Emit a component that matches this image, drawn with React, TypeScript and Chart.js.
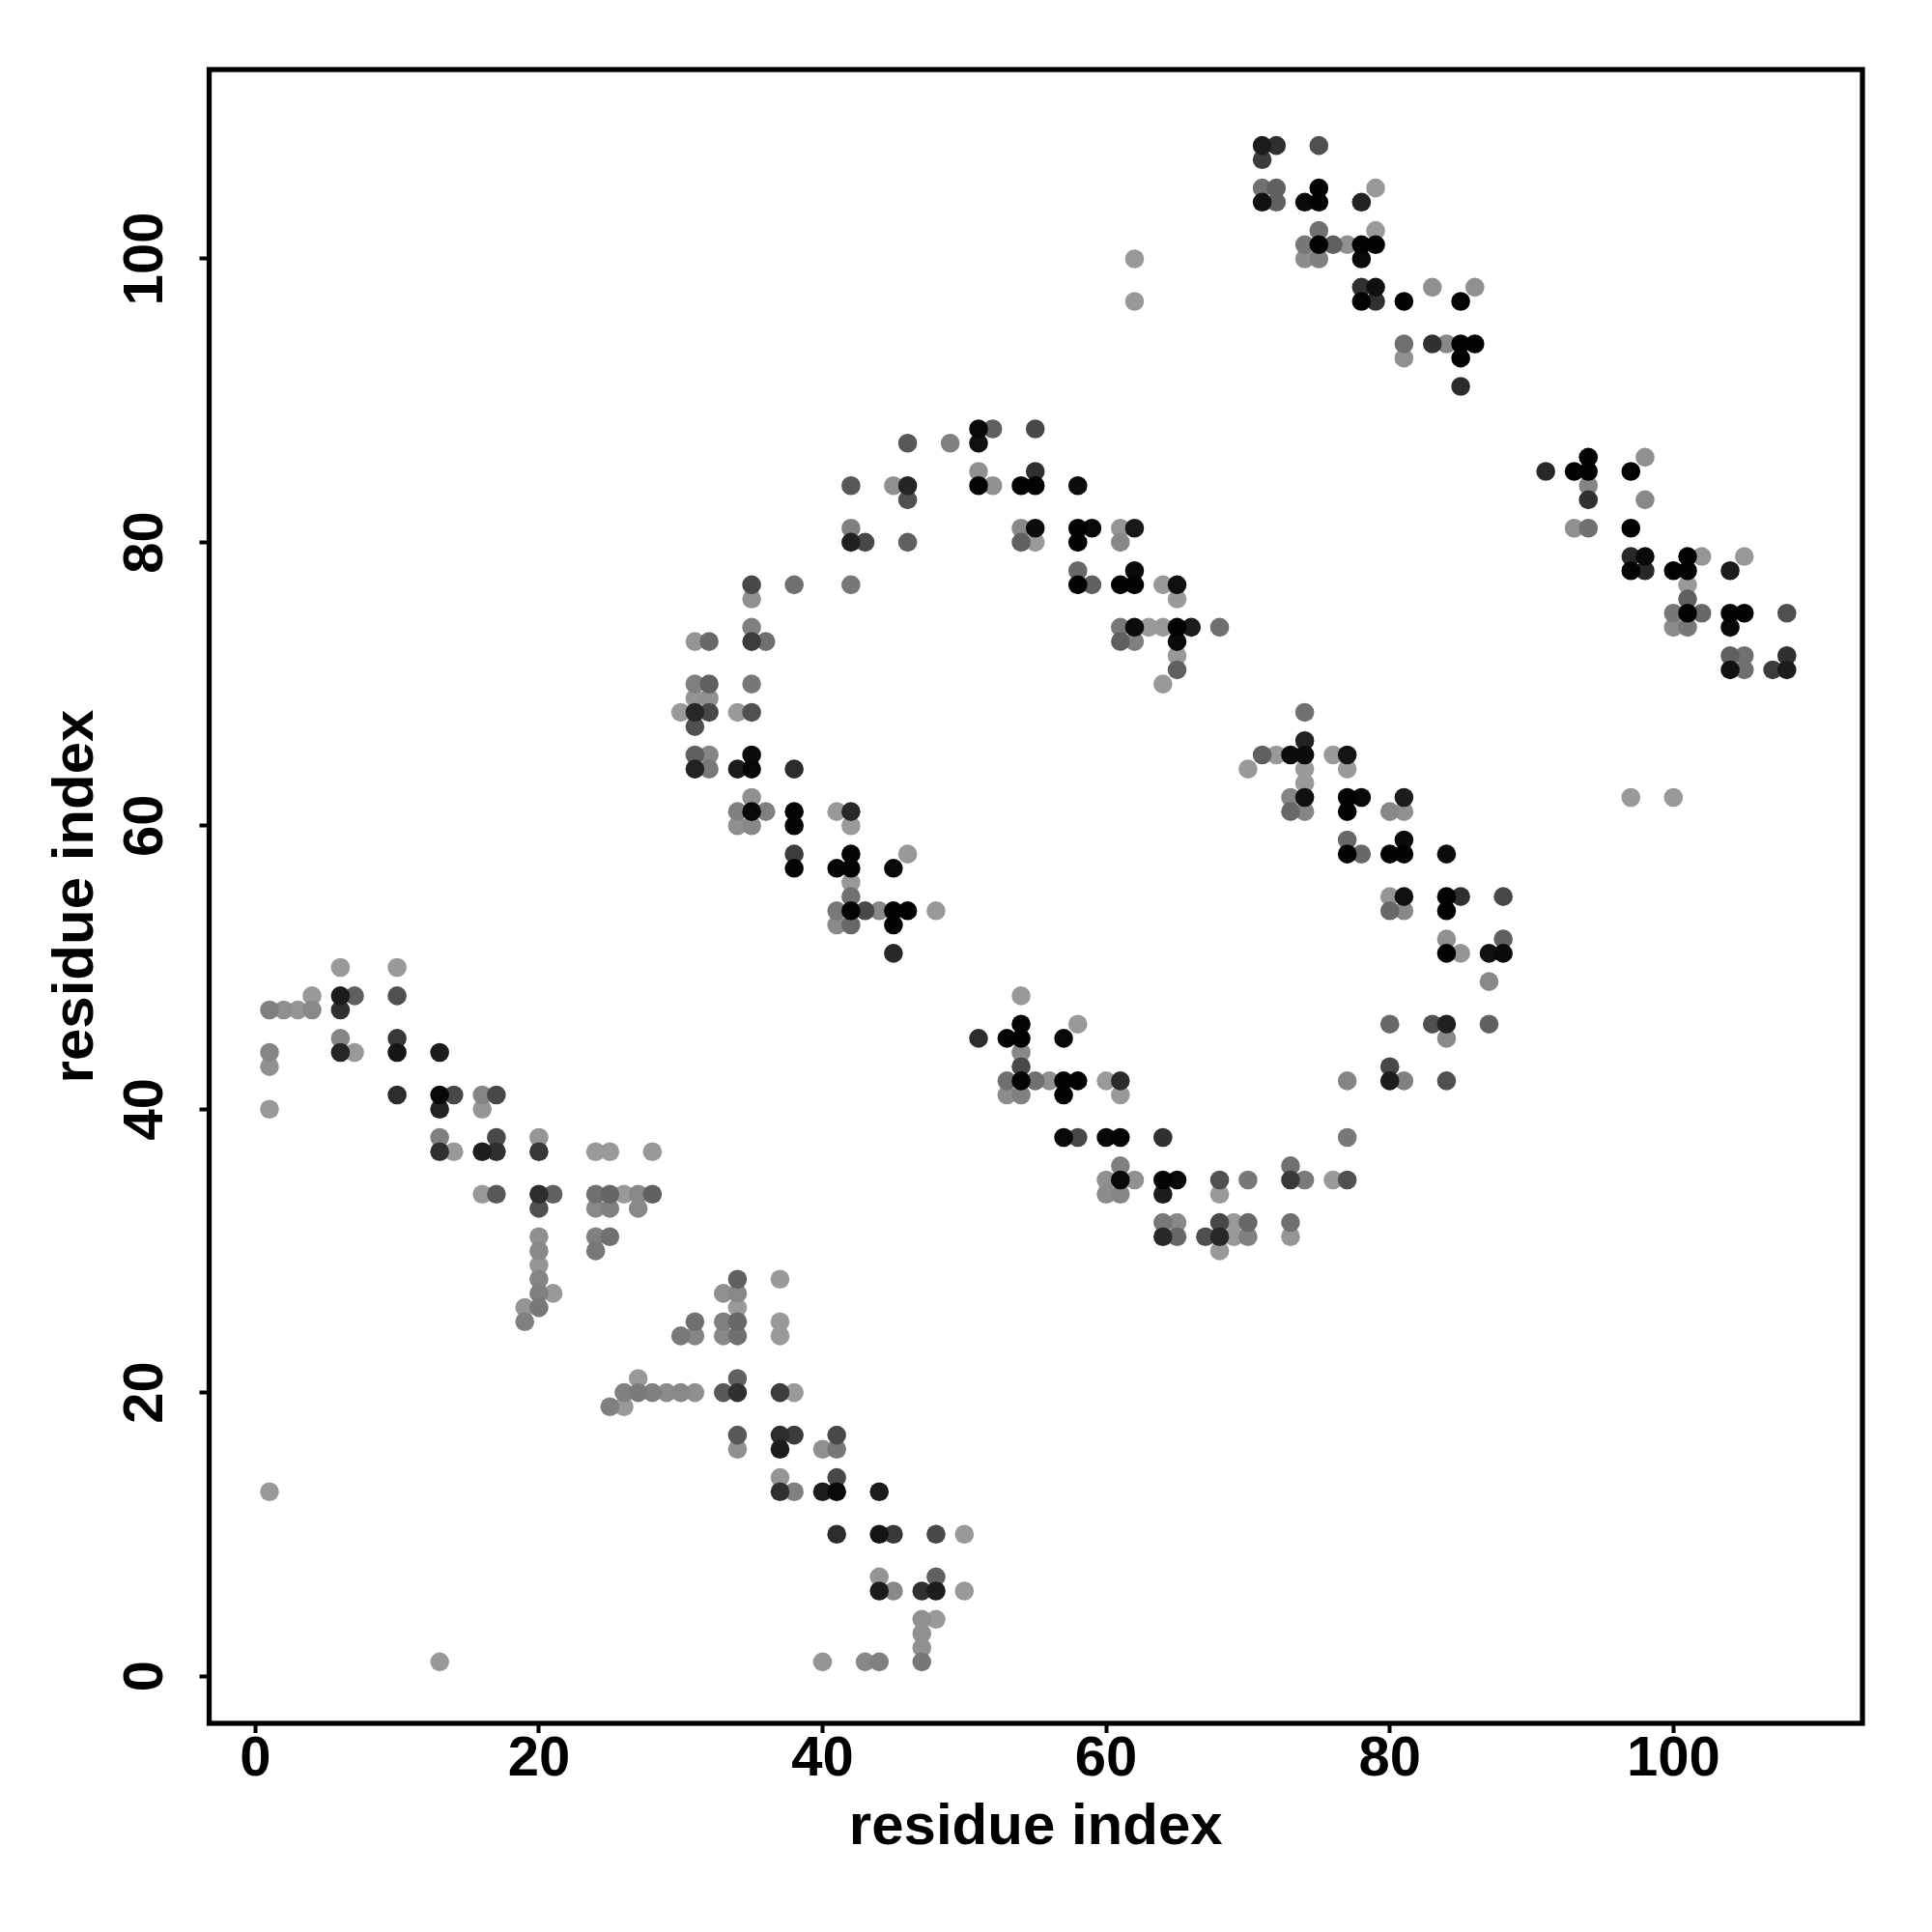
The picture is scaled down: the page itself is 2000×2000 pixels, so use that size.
import React, { useEffect, useRef } from "react";
import { Chart, registerables } from "chart.js";

Chart.register(...registerables);

const tickValues = [0, 20, 40, 60, 80, 100];
const axisLabel = "residue index";
const xRange = [-3.256, 113.33];
const yRange = [-3.34, 113.36];

// [x, y, grey level 0-255]
const lowerStrand: number[][] = [
  [6,50,0x99],[10,50,0x99],[4,48,0x99],[6,48,0x1c],[7,48,0x5f],[10,48,0x50],
  [1,47,0x7f],[2,47,0x90],[3,47,0x95],[4,47,0x88],[6,47,0x30],[6,45,0x85],[10,45,0x38],
  [1,44,0x85],[6,44,0x25],[7,44,0x99],[10,44,0x15],[13,44,0x1c],[1,43,0x90],
  [10,41,0x2c],[13,41,0x08],[14,41,0x48],[16,41,0x85],[17,41,0x48],
  [1,40,0x99],[13,40,0x22],[16,40,0x95],[13,38,0x80],[17,38,0x48],[20,38,0x95],
  [13,37,0x30],[14,37,0x99],[16,37,0x1e],[17,37,0x30],[20,37,0x38],[24,37,0x99],[25,37,0x99],[28,37,0x99],
  [16,34,0x99],[17,34,0x58],[20,34,0x2c],[21,34,0x60],[24,34,0x70],[25,34,0x66],[26,34,0x99],[27,34,0x88],[28,34,0x60],
  [20,33,0x50],[24,33,0x88],[25,33,0x80],[27,33,0x88],[20,31,0x90],[24,31,0x80],[25,31,0x70],
  [20,30,0x88],[24,30,0x78],[20,29,0x95],[20,28,0x85],[20,27,0x80],[21,27,0x99],
  [19,26,0x95],[20,26,0x78],[19,25,0x80],
  [34,28,0x60],[37,28,0x99],[33,27,0x90],[34,27,0x88],[34,26,0x99],
  [31,25,0x70],[33,25,0x80],[34,25,0x68],[37,25,0x99],[30,24,0x78],[31,24,0x85],[33,24,0x88],[34,24,0x70],[37,24,0x99],
  [27,21,0x99],[34,21,0x60],[26,20,0x80],[27,20,0x7a],[28,20,0x80],[29,20,0x8c],[30,20,0x88],[31,20,0x90],[33,20,0x58],[34,20,0x30],[37,20,0x3c],[38,20,0x99],
  [25,19,0x80],[26,19,0x99],[34,17,0x58],[37,17,0x2c],[38,17,0x3c],[41,17,0x48],
  [34,16,0x90],[37,16,0x1c],[40,16,0x90],[41,16,0x78],[37,14,0x95],[41,14,0x48],
  [37,13,0x30],[38,13,0x80],[40,13,0x1c],[41,13,0x08],[44,13,0x1c],
  [41,10,0x2c],[44,10,0x14],[45,10,0x38],[48,10,0x48],[50,10,0x99],[44,7,0x95],[48,7,0x60],
  [44,6,0x1c],[45,6,0x88],[47,6,0x30],[48,6,0x1c],[50,6,0x99],[47,4,0x90],[48,4,0x99],[47,3,0x90],[47,2,0x90],
  [40,1,0x95],[43,1,0x88],[44,1,0x80],[47,1,0x78],[13,1,0x99],[1,13,0x99],
];

const middleStrand: number[][] = [
  [35,77,0x48],[38,77,0x70],[35,76,0x90],[35,74,0x80],[31,73,0x95],[32,73,0x68],[35,73,0x3c],[36,73,0x70],
  [31,70,0x80],[32,70,0x60],[35,70,0x78],[31,69,0x95],[32,69,0x90],[30,68,0x99],[31,68,0x28],[32,68,0x48],[34,68,0x99],[35,68,0x50],[31,67,0x50],
  [31,65,0x60],[32,65,0x85],[35,65,0x0c],[31,64,0x22],[32,64,0x78],[34,64,0x1c],[35,64,0x08],[38,64,0x2c],[35,62,0x90],
  [34,61,0x80],[35,61,0x08],[36,61,0x80],[38,61,0x04],[41,61,0x99],[42,61,0x28],[34,60,0x90],[35,60,0x88],[38,60,0x04],[42,60,0x99],
  [38,58,0x3c],[42,58,0x04],[46,58,0x99],[38,57,0x04],[41,57,0x04],[42,57,0x04],[45,57,0x08],[42,56,0x99],[42,55,0x70],
  [41,54,0x78],[42,54,0x04],[43,54,0x48],[44,54,0x88],[45,54,0x02],[46,54,0x02],[48,54,0x99],[41,53,0x8a],[42,53,0x68],[45,53,0x02],[45,51,0x28],
  [51,88,0x08],[52,88,0x60],[55,88,0x48],[46,87,0x58],[49,87,0x80],[51,87,0x10],[51,85,0x90],[55,85,0x30],
  [42,84,0x58],[45,84,0x90],[46,84,0x25],[51,84,0x04],[52,84,0x90],[54,84,0x02],[55,84,0x02],[58,84,0x0c],[46,83,0x50],
  [42,81,0x80],[54,81,0x88],[55,81,0x0c],[58,81,0x02],[59,81,0x08],[61,81,0x95],[62,81,0x18],
  [42,80,0x20],[43,80,0x48],[46,80,0x60],[54,80,0x60],[55,80,0x99],[58,80,0x02],[61,80,0x88],[58,78,0x68],[62,78,0x0a],
  [42,77,0x78],[58,77,0x02],[59,77,0x60],[61,77,0x02],[62,77,0x02],[64,77,0x99],[65,77,0x10],[65,76,0x99],
  [61,74,0x78],[62,74,0x0c],[63,74,0x99],[64,74,0x99],[65,74,0x02],[66,74,0x1c],[68,74,0x70],[61,73,0x60],[62,73,0x80],[65,73,0x08],[65,72,0x99],[65,71,0x60],[64,70,0x99],
];

const ringStrand: number[][] = [
  [54,48,0x99],[54,46,0x04],[58,46,0x99],[80,46,0x68],[83,46,0x50],[84,46,0x20],[87,46,0x60],
  [51,45,0x2c],[53,45,0x04],[54,45,0x02],[57,45,0x08],[84,45,0x88],[54,44,0x88],[54,43,0x48],[80,43,0x48],
  [53,42,0x70],[54,42,0x04],[55,42,0x70],[56,42,0x90],[57,42,0x02],[58,42,0x02],[60,42,0x99],[61,42,0x2c],[77,42,0x85],[80,42,0x1c],[81,42,0x80],[84,42,0x50],
  [53,41,0x8c],[54,41,0x80],[57,41,0x02],[61,41,0x99],[57,38,0x08],[58,38,0x48],[60,38,0x08],[61,38,0x04],[64,38,0x30],[77,38,0x78],
  [61,36,0x80],[73,36,0x70],[60,35,0x90],[61,35,0x08],[62,35,0x90],[64,35,0x04],[65,35,0x08],[68,35,0x50],[70,35,0x78],[73,35,0x38],[74,35,0x7a],[76,35,0x99],[77,35,0x50],
  [60,34,0x8c],[61,34,0x85],[64,34,0x1c],[68,34,0x99],[64,32,0x78],[65,32,0x88],[68,32,0x48],[69,32,0x99],[70,32,0x68],[73,32,0x70],
  [64,31,0x28],[65,31,0x68],[67,31,0x50],[68,31,0x28],[69,31,0x99],[70,31,0x80],[73,31,0x95],[68,30,0x99],
  [74,68,0x70],[74,66,0x22],[71,65,0x60],[72,65,0x99],[73,65,0x0c],[74,65,0x0c],[76,65,0x99],[77,65,0x14],[70,64,0x99],[74,64,0x99],[77,64,0x99],[74,63,0x99],
  [73,62,0x85],[74,62,0x10],[77,62,0x02],[78,62,0x08],[81,62,0x1c],[73,61,0x68],[74,61,0x85],[77,61,0x02],[80,61,0x88],[81,61,0x90],
  [77,59,0x68],[81,59,0x0a],[77,58,0x02],[78,58,0x68],[80,58,0x02],[81,58,0x02],[84,58,0x0c],
  [80,55,0x95],[81,55,0x10],[84,55,0x02],[85,55,0x30],[88,55,0x48],[80,54,0x68],[81,54,0x88],[84,54,0x02],[84,52,0x90],[88,52,0x60],
  [84,51,0x02],[85,51,0x95],[87,51,0x10],[88,51,0x0a],[87,49,0x88],
];

const upperStrand: number[][] = [
  [71,108,0x1c],[72,108,0x30],[75,108,0x50],[71,107,0x3c],[71,105,0x70],[72,105,0x60],[75,105,0x02],[79,105,0x99],
  [71,104,0x10],[72,104,0x60],[74,104,0x0a],[75,104,0x02],[78,104,0x22],[75,102,0x70],[79,102,0x99],
  [74,101,0x78],[75,101,0x02],[76,101,0x60],[77,101,0x90],[78,101,0x02],[79,101,0x02],[74,100,0x8c],[75,100,0x80],[78,100,0x08],[62,100,0x99],
  [78,98,0x30],[79,98,0x10],[83,98,0x90],[86,98,0x90],[62,97,0x99],[78,97,0x02],[79,97,0x30],[81,97,0x02],[85,97,0x04],
  [81,94,0x70],[83,94,0x30],[84,94,0x88],[85,94,0x02],[86,94,0x02],[81,93,0x90],[85,93,0x02],[85,91,0x2c],
  [94,86,0x02],[98,86,0x90],[91,85,0x28],[93,85,0x02],[94,85,0x02],[97,85,0x02],[94,84,0x85],[94,83,0x30],[98,83,0x88],
  [93,81,0x90],[94,81,0x70],[97,81,0x02],[97,79,0x28],[98,79,0x0a],[101,79,0x02],[102,79,0x95],[105,79,0x99],
  [97,78,0x04],[98,78,0x28],[100,78,0x02],[101,78,0x02],[104,78,0x1c],[101,77,0x99],[101,76,0x60],
  [100,75,0x78],[101,75,0x02],[102,75,0x68],[104,75,0x02],[105,75,0x02],[108,75,0x50],[100,74,0x8c],[101,74,0x78],[104,74,0x08],
  [104,72,0x60],[105,72,0x70],[108,72,0x30],[104,71,0x10],[105,71,0x70],[107,71,0x3c],[108,71,0x1c],[97,62,0x99],[100,62,0x99],
];

const FONT = '"Liberation Sans", Arial, sans-serif';

const frame = {
  id: "frame",
  afterDraw(chart: any) {
    const { ctx, chartArea: a } = chart;
    ctx.save();
    ctx.strokeStyle = "#000";
    ctx.lineWidth = 5.3;
    ctx.strokeRect(a.left, a.top, a.right - a.left, a.bottom - a.top);
    ctx.restore();
  },
};

export default function App() {
  const ref = useRef<HTMLCanvasElement>(null);
  useEffect(() => {
    const all = [...lowerStrand, ...middleStrand, ...ringStrand, ...upperStrand]
      .slice()
      .sort((a, b) => b[2] - a[2]);
    const shade = (g: number) => `rgb(${g},${g},${g})`;
    const axis = (range: number[], extra: any) => ({
      type: "linear",
      min: range[0],
      max: range[1],
      afterBuildTicks(s: any) {
        s.ticks = tickValues.map((value) => ({ value }));
      },
      grid: { display: true, drawOnChartArea: false, tickLength: 10, tickWidth: 4, tickColor: "#000" },
      border: { display: false },
      ...extra,
    });
    const chart = new Chart(ref.current!, {
      type: "scatter",
      data: {
        datasets: [
          {
            data: all.map((p) => ({ x: p[0], y: p[1] })),
            pointRadius: 9.8,
            pointHoverRadius: 9.8,
            pointBorderWidth: 0,
            pointBackgroundColor: all.map((p) => shade(p[2])),
          },
        ],
      },
      options: {
        responsive: false,
        animation: false,
        layout: { padding: { top: 72, right: 72, left: 0, bottom: 0 } },
        plugins: { legend: { display: false }, tooltip: { enabled: false } },
        scales: {
          x: axis(xRange, {
            afterFit(s: any) { s.height = 216; },
            ticks: {
              autoSkip: false, maxRotation: 0, minRotation: 0, padding: -7, color: "#000",
              font: { family: FONT, weight: "bold", size: 58 },
              callback: (v: number) => String(v),
            },
            title: {
              display: true, text: axisLabel, color: "#000",
              font: { family: FONT, weight: "bold", size: 60 },
              padding: { top: 0, bottom: 72 },
            },
          }),
          y: axis(yRange, {
            afterFit(s: any) { s.width = 216.5; },
            ticks: {
              autoSkip: false, minRotation: 90, maxRotation: 90, padding: 6, color: "#000", crossAlign: "center",
              font: { family: FONT, weight: "bold", size: 58 },
              callback: (v: number) => String(v),
            },
            title: {
              display: true, text: axisLabel, color: "#000",
              font: { family: FONT, weight: "bold", size: 60 },
              padding: { top: 43, bottom: 0 },
            },
          }),
        },
      } as any,
      plugins: [frame],
    } as any);
    return () => chart.destroy();
  }, []);
  return (
    <div style={{ position: "absolute", left: 0, top: 0, width: 2000, height: 2000, background: "#fff" }}>
      <canvas ref={ref} width={2000} height={2000} style={{ display: "block" }} />
    </div>
  );
}
